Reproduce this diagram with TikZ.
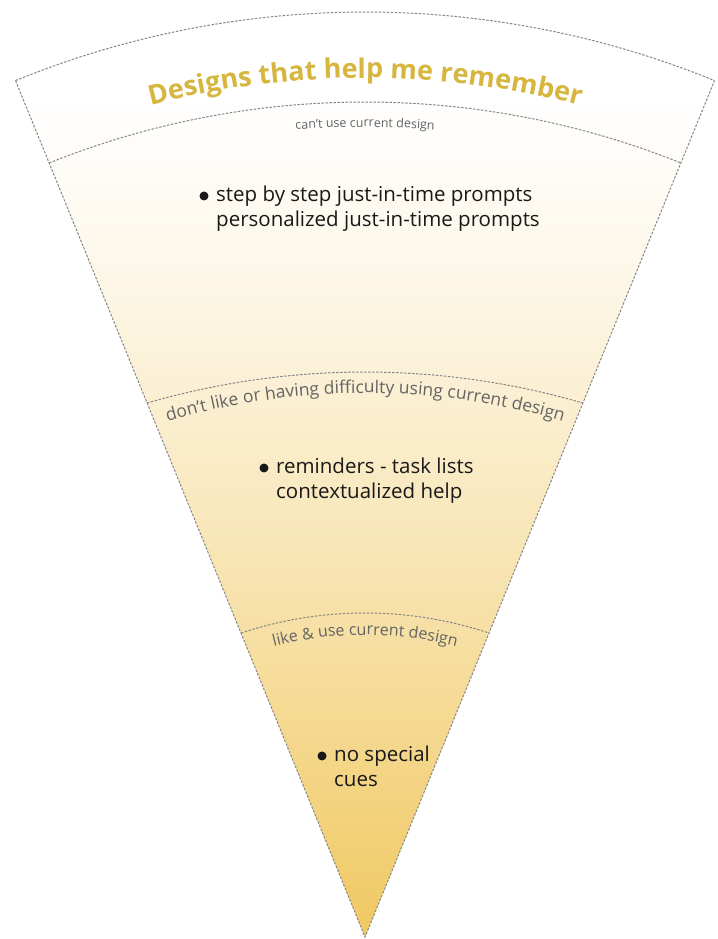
\documentclass[tikz,border=0pt]{standalone}
\usepackage{fontspec}
\setmainfont{Open Sans}
\usetikzlibrary{calc,decorations.text}
\definecolor{titlegold}{RGB}{214,182,62}
\definecolor{fangold}{RGB}{240,200,96}
\definecolor{edgegray}{RGB}{135,135,135}
\definecolor{labelgray}{RGB}{100,100,100}
\definecolor{bodyink}{RGB}{25,25,25}
\newcommand\titlefmt{\color{titlegold}\fontsize{27}{32}\selectfont\bfseries}
\newcommand\lblsmall{\color{labelgray}\fontsize{12.5}{15}\selectfont}
\newcommand\lblbig{\color{labelgray}\fontsize{17.5}{21}\selectfont}
\newcommand\lblmid{\color{labelgray}\fontsize{16}{19}\selectfont}
\begin{document}
\begin{tikzpicture}[x=1pt,y=1pt,
  edge/.style={draw=edgegray, line width=1pt, dash pattern=on 2.5pt off 1.5pt},
  body/.style={font=\fontsize{20.5}{25}\selectfont, text=bodyink, inner sep=0pt, anchor=base west},
  bulletdot/.style={circle, fill=bodyink, inner sep=0pt, minimum size=9pt}]
\useasboundingbox (0,0) rectangle (717,939);
\fill[white] (0,0) rectangle (717,939);
\coordinate (A) at (365,2);
\coordinate (L0) at ($(A)+(112.2:925pt)$);
\coordinate (R0) at ($(A)+(67.8:925pt)$);
\coordinate (C1) at (365,-12);
\coordinate (L1) at ($(C1)+(111.85:849pt)$);
\coordinate (C2) at (365,-215);
\coordinate (L2) at ($(C2)+(106.19:782pt)$);
\coordinate (C3) at (365,-68);
\coordinate (L3) at ($(C3)+(108.35:394pt)$);
% fill
\begin{scope}
  \clip (A) -- (L0) arc[start angle=112.2,end angle=67.8,radius=925pt] -- cycle;
  \foreach \k in {0,...,168}{
    \pgfmathsetmacro\p{100*((5*\k+12)/850)^1.25}
    \fill[fangold!\p!white] (0,{839-5*\k}) rectangle (717,{833.7-5*\k});
  }
\end{scope}
% outline and bands
\draw[edge] (L0) -- (A) -- (R0);
\draw[edge] (L0) arc[start angle=112.2,end angle=67.8,radius=925pt];
\draw[edge] (L1) arc[start angle=111.85,end angle=68.15,radius=849pt];
\draw[edge] (L2) arc[start angle=106.19,end angle=73.81,radius=782pt];
\draw[edge] (L3) arc[start angle=108.35,end angle=71.65,radius=394pt];
% curved texts
\path[decorate, decoration={text along path, text align=center,
  text={|\titlefmt|Designs that help me remember}}]
  ($(A)+(125:859pt)$) arc[start angle=125,end angle=55,radius=859pt];
\path[decorate, decoration={text along path, text align=center,
  text={|\lblsmall|can't use current design}}]
  ($(C1)+(100:824pt)$) arc[start angle=100,end angle=80,radius=824pt];
\path[decorate, decoration={text along path, text align=center,
  text={|\lblbig|don't like or having difficulty using current design}}]
  ($(365,-154)+(120:700pt)$) arc[start angle=120,end angle=60,radius=700pt];
\path[decorate, decoration={text along path, text align=center,
  text={|\lblmid|like {\&} use current design}}]
  ($(C3)+(130:372pt)$) arc[start angle=130,end angle=50,radius=372pt];
% body texts
\node[bulletdot] (b1) at (204,743) {};
\node[body] (t1a) at (216,737) {step by step just-in-time prompts};
\node[body] (t1b) at (216,712) {personalized just-in-time prompts};
\node[bulletdot] (b2) at (264,471) {};
\node[body] (t2a) at (276,465) {reminders - task lists};
\node[body] (t2b) at (276,440) {contextualized help};
\node[bulletdot] (b3) at (322,183) {};
\node[body] (t3a) at (334,177) {no special};
\node[body] (t3b) at (334,152) {cues};
\end{tikzpicture}
\end{document}
